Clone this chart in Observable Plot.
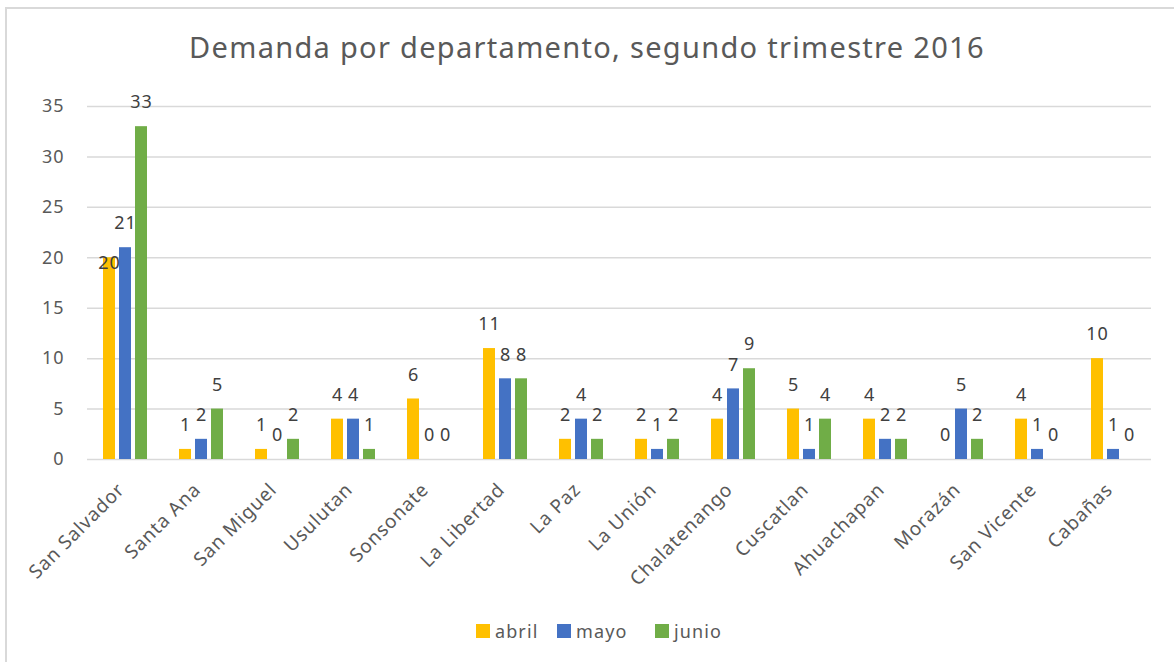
<!DOCTYPE html>
<html>
<head>
<meta charset="utf-8">
<script src="https://cdn.jsdelivr.net/npm/d3@7"></script>
<script src="https://cdn.jsdelivr.net/npm/@observablehq/plot@0.6"></script>
<style>
  html, body { margin: 0; padding: 0; background: #fff; overflow: hidden; }
  #wrap { position: relative; width: 1174px; height: 662px; font-family: "Noto Sans", sans-serif; }
  #frame { position: absolute; left: 5px; top: 7px; width: 1300px; height: 800px; border-left: 2px solid #d9d9d9; border-top: 2px solid #d9d9d9; box-sizing: border-box; }
  #title { position: absolute; left: 0; width: 1174px; top: 27px; text-align: center; font-size: 29px; letter-spacing: 1.3px; color: #595959; line-height: 40px; }
  #chart { position: absolute; left: 0; top: 0; }
  #legend { position: absolute; left: 0; top: 618px; width: 1174px; height: 26px; }
  .li { position: absolute; top: 0; font-size: 18px; letter-spacing: 1.1px; color: #595959; line-height: 26px; }
  .sw { position: absolute; top: 6px; width: 14px; height: 14px; }
  #chart svg text { letter-spacing: 0.9px; }
</style>
</head>
<body>
<div id="wrap">
  <div id="frame"></div>
  <div id="chart"></div>
  <div id="title"></div>
  <div id="legend"></div>
</div>
<script>
const titleText = "Demanda por departamento, segundo trimestre 2016";
const departamentos = ["San Salvador", "Santa Ana", "San Miguel", "Usulutan", "Sonsonate", "La Libertad", "La Paz", "La Unión", "Chalatenango", "Cuscatlan", "Ahuachapan", "Morazán", "San Vicente", "Cabañas"];
const series = ["abril", "mayo", "junio"];
const colors = ["#FFC000", "#4472C4", "#70AD47"];
const abril = [20, 1, 1, 4, 6, 11, 2, 2, 4, 5, 4, 0, 4, 10];
const mayo  = [21, 2, 0, 4, 0, 8, 4, 1, 7, 1, 2, 5, 1, 1];
const junio = [33, 5, 2, 1, 0, 8, 2, 2, 9, 4, 2, 2, 0, 0];
const yTicks = [0, 5, 10, 15, 20, 25, 30, 35];

const valuesBySeries = [abril, mayo, junio];
const data = [];
departamentos.forEach((dep, i) => {
  series.forEach((s, j) => {
    data.push({ dep, serie: s, value: valuesBySeries[j][i], si: j, di: i });
  });
});

// Excel-like label collision: a wide label too close to the next series' label moves down onto the bar
function collides(d) {
  const next = valuesBySeries[d.si + 1];
  if (!next) return false;
  const v2 = next[d.di];
  const wide = String(d.value).length > 1 && String(v2).length > 1;
  return wide && Math.abs(d.value - v2) < 1.6;
}
const normal = data.filter(d => !collides(d));
const moved = data.filter(d => collides(d));

document.getElementById("title").textContent = titleText;

const chart = Plot.plot({
  width: 1174,
  height: 580,
  marginLeft: 82,
  marginRight: 19,
  marginTop: 106,
  marginBottom: 121,
  style: { fontFamily: "'Noto Sans', sans-serif", background: "transparent", overflow: "visible" },
  fx: { domain: departamentos, padding: 0, label: null },
  x: { domain: series, paddingInner: 0.235, paddingOuter: 0.87, axis: null },
  y: { domain: [0, 35], ticks: yTicks, label: null },
  color: { domain: series, range: colors },
  marks: [
    Plot.ruleY(yTicks, { stroke: "#d9d9d9", strokeWidth: 1.5 }),
    Plot.axisY({ ticks: yTicks, tickSize: 0, tickPadding: 23, fontSize: 18, fill: "#595959", label: null }),
    Plot.axisFx({ anchor: "bottom", tickRotate: -45, tickSize: 0, tickPadding: 27, dx: -4, fontSize: 19, fill: "#595959", label: null }),
    Plot.barY(data, { fx: "dep", x: "serie", y: "value", fill: "serie" }),
    Plot.text(normal, { fx: "dep", x: "serie", y: "value", text: d => String(d.value), dy: -24, fontSize: 18, fill: "#404040" }),
    Plot.text(moved, { fx: "dep", x: "serie", y: "value", text: d => String(d.value), dy: 5, fontSize: 18, fill: "#404040" })
  ]
});
document.getElementById("chart").appendChild(chart);

const legendPos = [476, 557, 655];
const legend = document.getElementById("legend");
series.forEach((s, j) => {
  const sw = document.createElement("div");
  sw.className = "sw";
  sw.style.left = legendPos[j] + "px";
  sw.style.background = colors[j];
  legend.appendChild(sw);
  const t = document.createElement("div");
  t.className = "li";
  t.style.left = (legendPos[j] + 19) + "px";
  t.textContent = s;
  legend.appendChild(t);
});
</script>
</body>
</html>
